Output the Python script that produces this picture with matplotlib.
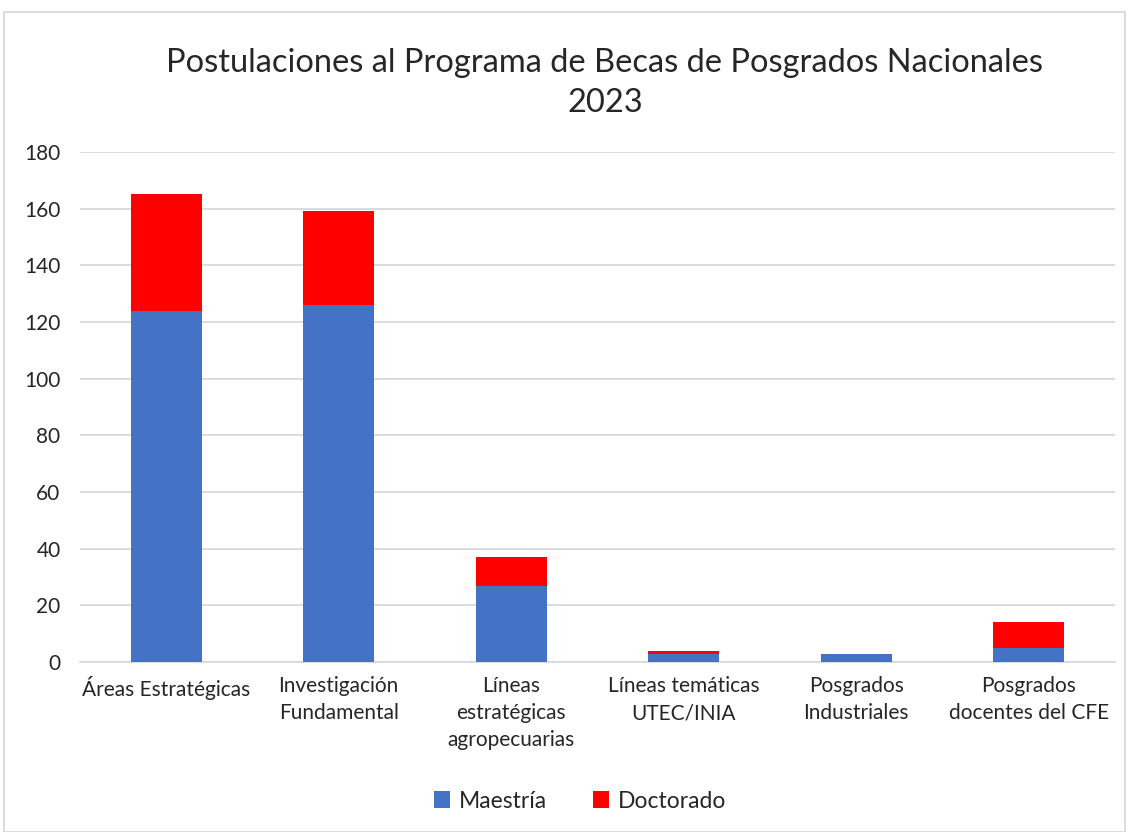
import matplotlib.pyplot as plt
import numpy as np
from matplotlib.patches import Rectangle

categorias = ['Áreas Estratégicas', 'Investigación\nFundamental', 'Líneas\nestratégicas\nagropecuarias',
              'Líneas temáticas\nUTEC/INIA', 'Posgrados\nIndustriales', 'Posgrados\ndocentes del CFE']
maestria = [124, 126, 27, 3, 3, 5]
doctorado = [41, 33, 10, 1, 0, 9]

plt.rcParams['font.family'] = ['Lato', 'DejaVu Sans']

fig = plt.figure(figsize=(11.29, 8.32), dpi=100)
ax = fig.add_axes([80 / 1129, 1 - 662 / 832, 1035 / 1129, 510 / 832])

x = np.arange(len(categorias))
ax.bar(x, maestria, width=0.41, color='#4472c4', label='Maestría', zorder=3)
ax.bar(x, doctorado, width=0.41, bottom=maestria, color='#ff0000', label='Doctorado', zorder=3)

ax.set_xlim(-0.5, len(categorias) - 0.5)
ax.set_ylim(0, 180)
ax.set_yticks(range(0, 181, 20))
ax.grid(axis='y', color='#d9d9d9', linewidth=1.3, zorder=0)
for s in ['top', 'right', 'left']:
    ax.spines[s].set_visible(False)
ax.spines['bottom'].set_color('#d9d9d9')
ax.spines['bottom'].set_linewidth(1.3)
ax.tick_params(length=0, labelsize=15, colors='#262626', pad=10)
ax.tick_params(axis='y', pad=14)
ax.set_xticks(x)
ax.set_xticklabels(categorias, linespacing=1.45)

fig.text(605 / 1129, 1 - 83 / 832, 'Postulaciones al Programa de Becas de Posgrados Nacionales\n2023',
         ha='center', va='center', fontsize=23.5, color='#262626', linespacing=1.38)

fig.legend(loc='center', bbox_to_anchor=(580 / 1129, 1 - 801 / 832), ncol=2, frameon=False,
           fontsize=16.5, handlelength=0.7, handleheight=0.7, columnspacing=2.0, handletextpad=0.4,
           labelcolor='#262626')

fig.patches.append(Rectangle((4 / 1129, 0.0), 1121 / 1129, 1 - 12 / 832, transform=fig.transFigure,
                             fill=False, edgecolor='#d9d9d9', linewidth=1.3))

fig.savefig('out.png', dpi=100)
